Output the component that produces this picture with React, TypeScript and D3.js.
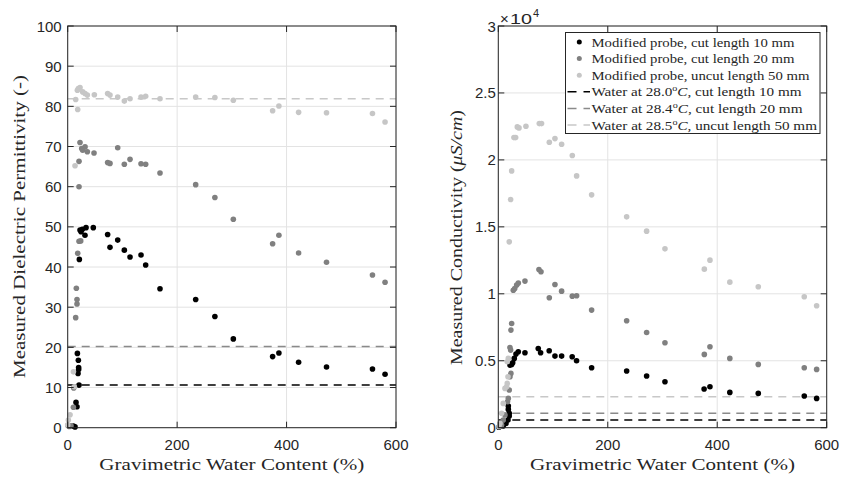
import React from "react";
import * as d3 from "d3";

type Pt = [number, number];

// Permittivity panel data [water content %, permittivity]
const perm10: Pt[] = [[1,0.5],[10.4,0.4],[13.4,0.2],[15.2,6.3],[17,5.2],[20.7,10.6],[18.9,13.5],[20,14.5],[20,15.0],[19.5,16.8],[17.7,18.5],[21.3,41.9],[22.5,49.2],[24.4,48.8],[26.8,49.4],[31.6,47.9],[33.5,49.8],[46.8,49.8],[73,48.1],[77.3,44.9],[91.4,46.7],[103.5,44.2],[113.9,42.5],[134,43.0],[142.5,40.5],[168.7,34.6],[233.9,31.9],[269,27.7],[302.7,22.1],[374.5,17.7],[386,18.6],[422,16.3],[473,15.1],[557,14.6],[580,13.3]];
const perm20: Pt[] = [[3,0.3],[6,0.5],[10.4,5.1],[11,9.9],[14.6,27.4],[17,30.8],[17,31.9],[15.8,34.7],[18.3,43.4],[20.7,46.4],[23.8,46.5],[20.7,60.0],[20.7,66.3],[22.5,71.0],[25.6,69.5],[27.4,69.1],[31.7,69.9],[35.9,68.7],[48.1,68.4],[73,66.0],[77.3,65.8],[91.4,69.7],[103.5,65.6],[113.9,66.8],[134,65.7],[142.5,65.6],[168.7,63.4],[233.9,60.5],[269,57.3],[302.7,51.9],[374.5,45.8],[386,47.9],[422,43.5],[473,41.2],[557,38.0],[580,36.2]];
const perm50: Pt[] = [[0,0.7],[1.2,1.9],[4.3,3.2],[12,10.2],[10.4,13.9],[13.4,65.2],[18.3,79.2],[14.6,81.7],[17.7,84.0],[19.5,84.4],[22.5,84.7],[27.4,83.6],[31.7,83.2],[35.9,82.8],[48.7,82.9],[73,83.2],[77.3,82.8],[91.4,82.3],[103.5,81.3],[113.9,81.9],[134,82.3],[142.5,82.5],[168.7,81.9],[233.9,82.3],[269,82.2],[302.7,81.5],[374.5,78.9],[386,80.1],[422,78.5],[473,78.4],[557,78.2],[580,76.1]];
const permWater = [10.6, 20.2, 81.9];

// Conductivity panel data [water content %, µS/cm]
const cond10: Pt[] = [[1,30],[9,124],[14,323],[17.7,572],[20,871],[20,1070],[18.3,1368],[18.3,1617],[21.3,4677],[24.4,4727],[26.3,4850],[29.2,5174],[32.3,5498],[36.5,5672],[48.7,5597],[73,5920],[77.3,5597],[93,5746],[103.5,5348],[115.7,5348],[135,5298],[143,5000],[170.5,4478],[234.5,4229],[271,3856],[304.5,3433],[376,2886],[386.7,3060],[423,2637],[475,2562],[559,2363],[581.6,2189]];
const cond20: Pt[] = [[6,199],[9,572],[12.2,945],[17,1940],[18.3,2189],[20,2811],[21.3,3806],[23,4055],[22.5,5796],[21.3,5995],[23,7289],[24.4,7786],[27.4,10270],[30,10400],[33.5,10650],[36.6,10800],[48.7,10950],[74.3,11816],[78,11642],[93.2,9702],[103.5,10697],[115.7,10199],[135.2,9826],[143.1,9851],[170.5,8781],[234.5,7985],[271,7115],[304.5,6343],[376.4,5473],[386.7,6045],[423,5174],[475,4727],[559,4478],[581.6,4353]];
const cond50: Pt[] = [[1.2,75],[3,323],[6,1070],[9,1816],[12.2,2935],[15.2,3060],[16.4,3308],[17.7,3806],[16.4,4925],[18.3,5174],[20,13881],[22.5,17040],[24.4,19180],[28.6,21667],[31.7,21667],[34.7,22463],[37.8,22390],[50.5,22512],[74.9,22712],[79,22712],[93.2,21318],[103.5,21592],[115.7,21170],[135.2,20324],[143.1,18806],[170.5,17389],[234.5,15747],[271,14677],[304.5,13358],[376.4,11841],[386.7,12513],[423,10871],[475,10522],[559,9776],[581.6,9105]];
const condWater = [575, 1075, 2315];

const xTicks = [0, 200, 400, 600];
const permTicks = [0, 10, 20, 30, 40, 50, 60, 70, 80, 90, 100];
const condTicks = [0, 5000, 10000, 15000, 20000, 25000, 30000];

const seriesColors = ["#000000", "#808080", "#c6c6c6"];
const waterColors = ["#000000", "#8a8a8a", "#c8c8c8"];
const legendSeries = [
  "Modified probe, cut length 10 mm",
  "Modified probe, cut length 20 mm",
  "Modified probe, uncut length 50 mm",
];
const legendWaterTemps = ["28.0", "28.4", "28.5"];
const legendWaterTails = [", cut length 10 mm", ", cut length 20 mm", ", uncut length 50 mm"];

const AX = "#262626";
const GRID = "#e3e3e3";
const SERIF = "'Liberation Serif', 'Times New Roman', serif";
const SANS = "'Liberation Sans', Arial, sans-serif";

function Panel(props: {
  x: d3.ScaleLinear<number, number>;
  y: d3.ScaleLinear<number, number>;
  yTicks: number[];
  fmt: (v: number) => string;
  series: Pt[][];
  water: number[];
  labelGap: number;
}) {
  const { x, y, yTicks, fmt, series, water, labelGap } = props;
  const [x0, x1] = x.range();
  const [yb, yt] = y.range();
  const tl = 6;
  return (
    <g>
      {xTicks.map((t) => (
        <line key={"gx" + t} x1={x(t)} x2={x(t)} y1={yb} y2={yt} stroke={GRID} strokeWidth={1} />
      ))}
      {yTicks.map((t) => (
        <line key={"gy" + t} x1={x0} x2={x1} y1={y(t)} y2={y(t)} stroke={GRID} strokeWidth={1} />
      ))}
      {water.map((w, i) => (
        <line key={"w" + i} x1={x0} x2={x1} y1={y(w)} y2={y(w)} stroke={waterColors[i]} strokeWidth={1.5} strokeDasharray="8,6" />
      ))}
      {series.map((s, si) => (
        <g key={"s" + si} fill={seriesColors[si]}>
          {s.map((p, pi) => (
            <circle key={pi} cx={x(p[0])} cy={y(p[1])} r={2.8} />
          ))}
        </g>
      ))}
      <rect x={x0} y={yt} width={x1 - x0} height={yb - yt} fill="none" stroke={AX} strokeWidth={1} />
      {xTicks.map((t) => (
        <g key={"tx" + t}>
          <line x1={x(t)} x2={x(t)} y1={yb} y2={yb - tl} stroke={AX} />
          <line x1={x(t)} x2={x(t)} y1={yt} y2={yt + tl} stroke={AX} />
          <text x={x(t)} y={450} textAnchor="middle" fontFamily={SANS} fontSize={15} fill={AX}>{t}</text>
        </g>
      ))}
      {yTicks.map((t) => (
        <g key={"ty" + t}>
          <line x1={x0} x2={x0 + tl} y1={y(t)} y2={y(t)} stroke={AX} />
          <line x1={x1} x2={x1 - tl} y1={y(t)} y2={y(t)} stroke={AX} />
          <text x={x0 - labelGap} y={y(t) + 5.5} textAnchor="end" fontFamily={SANS} fontSize={15} fill={AX}>{fmt(t)}</text>
        </g>
      ))}
      <text x={(x0 + x1) / 2} y={470} textAnchor="middle" fontFamily={SERIF} fontSize={17.5} fill={AX}
        textLength={265} lengthAdjust="spacingAndGlyphs">
        Gravimetric Water Content (%)
      </text>
    </g>
  );
}

export default function App() {
  const xL = d3.scaleLinear().domain([0, 600]).range([67.7, 396]);
  const yL = d3.scaleLinear().domain([0, 100]).range([427.7, 26]);
  const xR = d3.scaleLinear().domain([0, 600]).range([498.3, 826.7]);
  const yR = d3.scaleLinear().domain([0, 30000]).range([427.7, 26]);

  const lx = 565.5, ly = 32.5, lw = 254.5, lh = 101;
  const rowY = (i: number) => ly + 9.5 + i * 16.6;
  const seriesLens = [203, 203, 218];
  const waterLens = [210, 211, 225.5];

  return (
    <div style={{ position: "fixed", left: 0, top: 0 }}>
      <svg width={843} height={481} style={{ display: "block", background: "#fff" }}>
        <Panel x={xL} y={yL} yTicks={permTicks} fmt={(v) => String(v)} series={[perm10, perm20, perm50]} water={permWater} labelGap={6} />
        <Panel x={xR} y={yR} yTicks={condTicks} fmt={(v) => d3.format("")(v / 10000)} series={[cond10, cond20, cond50]} water={condWater} labelGap={2.5} />

        <text transform={`translate(25,226.5) rotate(-90)`} textAnchor="middle" fontFamily={SERIF} fontSize={17.5} fill={AX}
          textLength={303} lengthAdjust="spacingAndGlyphs">
          Measured Dielectric Permittivity (-)
        </text>
        <text transform={`translate(461.5,237.5) rotate(-90)`} textAnchor="middle" fontFamily={SERIF} fontSize={17.5} fill={AX}
          textLength={255} lengthAdjust="spacingAndGlyphs">
          Measured Conductivity (<tspan fontStyle="italic">μS/cm</tspan>)
        </text>

        <g fontFamily={SANS} fill={AX}>
          <text x={500} y={24} fontSize={15}>×</text>
          <text x={510} y={24} fontSize={15} textLength={22} lengthAdjust="spacingAndGlyphs">10</text>
          <text x={533} y={17} fontSize={11}>4</text>
        </g>

        <g>
          <rect x={lx} y={ly} width={lw} height={lh} fill="#fff" stroke={AX} strokeWidth={1} />
          {legendSeries.map((s, i) => (
            <g key={"ls" + i}>
              <circle cx={579.3} cy={rowY(i)} r={2.5} fill={seriesColors[i]} />
              <text x={591.5} y={rowY(i) + 4.5} fontFamily={SERIF} fontSize={13.5} fill={AX}
                textLength={seriesLens[i]} lengthAdjust="spacingAndGlyphs">{s}</text>
            </g>
          ))}
          {legendWaterTemps.map((t, i) => (
            <g key={"lw" + i}>
              <line x1={567.5} x2={590} y1={rowY(i + 3)} y2={rowY(i + 3)} stroke={waterColors[i]} strokeWidth={1.5} strokeDasharray="9,7" />
              <text x={591.5} y={rowY(i + 3) + 4.5} fontFamily={SERIF} fontSize={13.5} fill={AX}
                textLength={waterLens[i]} lengthAdjust="spacingAndGlyphs">
                Water at {t}
                <tspan dy={-5} fontSize={9}>o</tspan>
                <tspan dy={5} fontStyle="italic">C</tspan>
                {legendWaterTails[i]}
              </text>
            </g>
          ))}
        </g>
      </svg>
    </div>
  );
}
